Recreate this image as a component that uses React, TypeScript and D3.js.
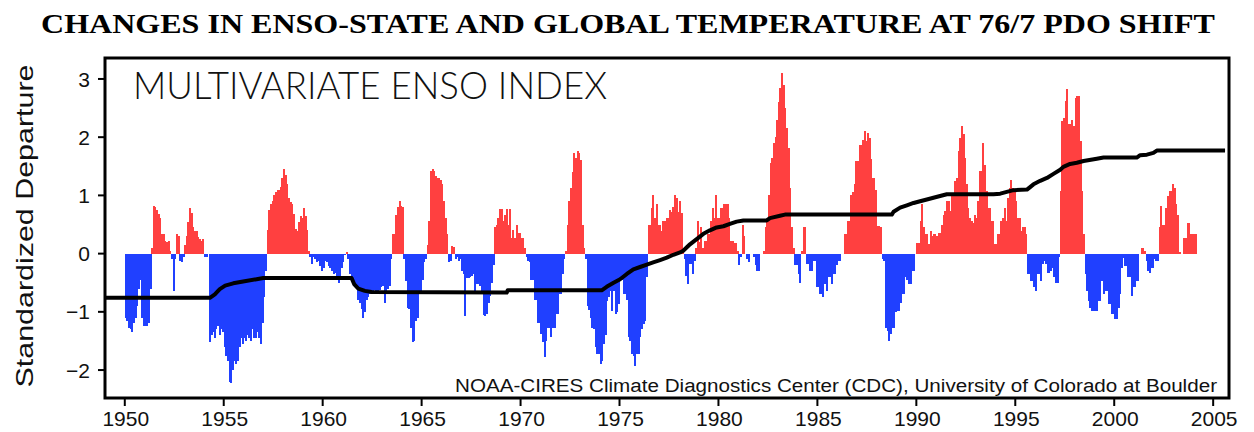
import React from "react";
import * as d3 from "d3";

const title = "CHANGES IN ENSO-STATE AND GLOBAL TEMPERATURE AT 76/7 PDO SHIFT";
const panelLabel = "MULTIVARIATE ENSO INDEX";
const credit = "NOAA-CIRES Climate Diagnostics Center (CDC), University of Colorado at Boulder";
const yAxisLabel = "Standardized Departure";
const xTicks = [1950, 1955, 1960, 1965, 1970, 1975, 1980, 1985, 1990, 1995, 2000, 2005];
const yTicks = [-2, -1, 0, 1, 2, 3];
const startYear = 1950;

// Monthly MEI values, January of the first year of each decade onward
const mei1950s = [
  -1.1, -1.15, -1.27, -1.3, -1.35, -1.2, -1.1, -0.9, -0.6, -0.45, -1.1, -1.25,
  -1.25, -1.25, -1.2, -0.6, 0.1, 0.82, 0.8, 0.75, 0.68, 0.62, 0.33, 0.33,
  0.22, 0.2, 0.22, 0.05, -0.1, -0.64, -0.1, 0.33, 0.3, -0.12, -0.15, -0.05,
  0.15, 0.3, 0.55, 0.79, 0.7, 0.45, 0.38, 0.38, 0.28, 0.25, 0.22, 0.25,
  -0.05, -0.05, 0.0, -1.52, -1.4, -1.35, -1.45, -1.3, -1.25, -1.4, -1.3, -1.35,
  -1.6, -1.75, -1.85, -2.2, -2.22, -2.0, -1.85, -1.9, -1.85, -1.6, -1.45, -1.55,
  -1.45, -1.5, -1.4, -1.45, -1.5, -1.3, -1.45, -1.45, -1.35, -1.45, -1.55, -1.2,
  -0.75, -0.3, 0.4, 0.75, 0.85, 0.9, 1.0, 1.05, 1.1, 1.1, 1.15, 1.3,
  1.45, 1.35, 1.2, 0.95, 0.88, 0.85, 0.68, 0.42, 0.38, 0.55, 0.65, 0.62,
  0.78, 0.65, 0.4, 0.05, -0.05, -0.18, -0.05, -0.1, -0.15, -0.12, -0.22, -0.3,
];
const mei1960s = [
  -0.25, -0.12, -0.15, -0.22, -0.25, -0.3, -0.35, -0.33, -0.4, -0.5, -0.45, -0.25,
  -0.15, -0.02, 0.02, -0.1, -0.35, -0.38, -0.45, -0.5, -0.6, -0.8, -0.85, -0.95,
  -1.1, -1.0, -0.8, -0.75, -0.7, -0.68, -0.65, -0.62, -0.68, -0.7, -0.62, -0.58,
  -0.55, -0.85, -0.7, -0.6, -0.55, -0.1, 0.33, 0.33, 0.67, 0.8, 0.9, 0.82,
  0.8, -0.1, -0.47, -0.93, -0.95, -1.27, -1.52, -1.5, -1.15, -1.1, -0.7, -0.65,
  -0.45, -0.15, -0.1, 0.15, 0.56, 1.42, 1.45, 1.42, 1.33, 1.3, 1.3, 1.27,
  1.19, 0.9, 0.62, 0.33, -0.15, -0.12, 0.13, 0.12, -0.1, -0.05, -0.12, -0.1,
  -0.3, -0.35, -1.07, -0.42, -0.42, -0.4, -0.38, -0.35, -0.7, -0.52, -0.52, -0.55,
  -0.65, -1.05, -1.07, -1.04, -0.85, -0.72, -0.5, -0.2, 0.45, 0.5, 0.62, 0.76,
  0.76, 0.56, 0.67, 0.76, 0.5, 0.76, 0.27, 0.41, 0.27, 0.5, 0.36, 0.36,
];
const mei1970s = [
  0.27, 0.27, 0.1, -0.05, -0.12, -0.15, -0.45, -0.45, -0.8, -0.8, -1.2, -1.2,
  -1.38, -1.52, -1.78, -1.5, -1.27, -1.27, -1.44, -1.27, -1.27, -1.04, -1.04, -0.7,
  -0.7, -0.35, -0.1, 0.05, 0.5, 0.9, 1.13, 1.4, 1.73, 1.65, 1.76, 1.72,
  1.6, 0.5, 0.1, -0.1, -0.9, -0.97, -1.1, -1.27, -1.3, -1.6, -1.72, -1.72,
  -1.9, -1.85, -1.55, -1.4, -0.81, -0.75, -0.64, -0.98, -0.64, -1.04, -1.0, -0.87,
  -0.41, -0.45, -0.7, -0.7, -0.8, -1.44, -1.5, -1.73, -1.75, -1.93, -1.73, -1.73,
  -1.44, -1.3, -1.21, -1.15, -0.4, 0.5, 0.5, 0.79, 1.0, 0.62, 0.85, 0.5,
  0.5, 0.39, 0.56, 0.56, 0.62, 0.62, 0.75, 0.72, 0.8, 1.0, 0.95, 0.72,
  0.9, 0.7, 0.1, -0.1, -0.38, -0.53, -0.18, -0.18, -0.35, -0.13, 0.1, 0.56,
  0.2, 0.45, 0.1, 0.22, 0.22, 0.33, 0.33, 0.56, 0.79, 0.62, 1.0, 0.62,
];
const mei1980s = [
  0.62, 0.79, 0.79, 0.85, 0.85, 0.85, 0.62, 0.22, 0.22, 0.19, 0.19, 0.05,
  -0.2, -0.05, 0.5, 0.3, 0.0, -0.1, -0.15, 0.0, 0.0, -0.05, -0.2, -0.3,
  -0.3, 0.0, 0.0, 0.05, 0.45, 0.6, 1.0, 1.55, 1.65, 1.9, 2.0, 2.3,
  2.6, 2.85, 3.1, 2.9, 2.5, 2.16, 1.82, 1.13, 0.45, 0.1, -0.2, -0.2,
  -0.35, -0.5, 0.05, 0.45, 0.45, -0.18, -0.18, -0.3, -0.3, -0.12, -0.12, -0.58,
  -0.58, -0.7, -0.7, -0.75, -0.53, -0.64, -0.41, -0.41, -0.53, -0.35, -0.35, -0.2,
  -0.13, -0.13, 0.0, 0.0, 0.33, 0.33, 0.56, 0.56, 1.0, 1.05, 1.2, 1.59,
  1.59, 1.87, 1.87, 1.95, 2.1, 1.93, 2.07, 1.99, 1.62, 1.3, 1.3, 1.1,
  0.47, 0.47, 0.45, -0.1, -0.13, -1.27, -1.33, -1.5, -1.38, -1.27, -1.27, -1.0,
  -0.98, -0.98, -0.85, -0.7, -0.7, -0.41, -0.45, -0.53, -0.53, -0.3, -0.3, 0.0,
];
const mei1990s = [
  0.19, 0.19, 0.56, 0.85, 0.45, 0.33, 0.33, 0.16, 0.39, 0.3, 0.33, 0.33,
  0.3, 0.35, 0.36, 0.5, 0.67, 0.73, 0.9, 0.9, 0.73, 1.02, 1.02, 1.25,
  1.3, 1.76, 1.99, 2.19, 2.05, 1.65, 1.19, 0.79, 0.62, 0.56, 0.53, 0.67,
  0.62, 0.9, 1.42, 1.42, 1.9, 1.53, 1.07, 0.79, 0.79, 0.56, 0.56, 0.16,
  0.16, 0.33, 0.33, 0.56, 0.62, 0.79, 0.56, 0.96, 1.13, 1.27, 1.13, 1.05,
  0.9, 0.62, 0.62, 0.39, 0.45, 0.45, 0.33, -0.35, -0.35, -0.47, -0.47, -0.58,
  -0.64, -0.35, -0.35, -0.47, -0.18, -0.13, -0.18, -0.33, -0.33, -0.3, -0.25, -0.4,
  -0.5, -0.5, -0.05, 1.07, 2.27, 2.33, 2.62, 2.82, 2.22, 2.22, 2.3, 2.19,
  2.67, 2.7, 2.7, 1.93, 1.07, 0.33, -0.35, -0.64, -0.81, -0.93, -0.98, -0.98,
  -0.98, -0.98, -0.81, -0.81, -0.47, -0.7, -0.64, -0.64, -0.87, -0.87, -1.04, -1.04,
];
const mei2000s = [
  -1.13, -1.13, -0.93, -0.7, -0.24, -0.07, -0.21, -0.21, -0.41, -0.41, -0.73, -0.58,
  -0.58, -0.47, -0.47, 0.0, 0.1, 0.1, 0.05, -0.13, -0.3, -0.33, -0.24, -0.24,
  -0.1, -0.13, -0.13, 0.45, 0.82, 0.5, 0.5, 0.79, 0.99, 1.07, 1.07, 1.19,
  1.13, 0.85, 0.67, 0.02, 0.0, 0.0, 0.27, 0.27, 0.53, 0.53, 0.33, 0.33,
  0.33, 0.33,
];

// Black step-like curve (year, value)
const trendYears = [
  1949.0, 1954.3, 1954.55, 1954.8, 1955.07, 1955.48, 1955.98, 1956.66, 1957.0, 1961.46,
  1961.6, 1961.8, 1962.13, 1962.47, 1969.3, 1969.35, 1974.1, 1974.35, 1974.7, 1975.03,
  1975.37, 1975.7, 1976.04, 1976.38, 1976.7, 1977.05, 1977.39, 1977.72, 1978.06, 1978.22,
  1978.56, 1978.9, 1979.24, 1979.57, 1979.91, 1980.25, 1980.58, 1980.92, 1981.26, 1982.44,
  1982.6, 1983.11, 1983.36, 1988.76, 1988.85, 1989.18, 1989.52, 1989.86, 1990.19, 1990.53,
  1991.2, 1991.54, 1993.9, 1994.24, 1994.57, 1994.91, 1995.59, 1995.92, 1996.26, 1996.6,
  1996.93, 1997.27, 1997.43, 1997.77, 1998.11, 1998.45, 1999.12, 1999.46, 2001.14, 2001.31,
  2001.65, 2001.98, 2002.15, 2005.6,
];
const trendValues = [
  -0.76, -0.76, -0.7, -0.61, -0.55, -0.51, -0.48, -0.44, -0.42, -0.42,
  -0.53, -0.6, -0.64, -0.66, -0.67, -0.63, -0.63, -0.57, -0.5, -0.44,
  -0.35, -0.27, -0.23, -0.19, -0.15, -0.11, -0.07, -0.02, 0.02, 0.05,
  0.16, 0.25, 0.34, 0.4, 0.45, 0.47, 0.51, 0.55, 0.57, 0.57,
  0.61, 0.65, 0.67, 0.67, 0.72, 0.79, 0.83, 0.87, 0.9, 0.93,
  0.99, 1.02, 1.02, 1.03, 1.06, 1.09, 1.1, 1.19, 1.25, 1.3,
  1.37, 1.44, 1.49, 1.54, 1.56, 1.59, 1.63, 1.65, 1.65, 1.69,
  1.7, 1.73, 1.77, 1.77,
];

const W = 1254;
const H = 432;
const PL = 105, PR = 1229, PT = 58, PB = 398;
const RED = "#ff4040";
const BLUE = "#2040ff";

export default function App() {
  const mei = [...mei1950s, ...mei1960s, ...mei1970s, ...mei1980s, ...mei1990s, ...mei2000s];
  const x = d3.scaleLinear().domain([1949.0, 2005.8]).range([PL, PR]);
  const y = d3.scaleLinear().domain([-2.48, 3.36]).range([PB, PT]);
  const y0 = y(0);
  const line = d3
    .line<number>()
    .x((_, i) => x(trendYears[i]))
    .y((d) => y(d));
  const tickFont = "'Liberation Sans', 'DejaVu Sans', sans-serif";

  return (
    <svg
      width={W}
      height={H}
      viewBox={`0 0 ${W} ${H}`}
      style={{ position: "absolute", left: 0, top: 0, background: "#fff" }}
    >
      <rect x={0} y={0} width={W} height={H} fill="#fff" />
      <text
        x={41}
        y={33}
        fontFamily="'Liberation Serif', 'Times New Roman', serif"
        fontWeight="bold"
        fontSize={27}
        textLength={1174}
        lengthAdjust="spacingAndGlyphs"
      >
        {title}
      </text>

      <g shapeRendering="crispEdges">
        {mei.map((v, i) => {
          if (v === 0) return null;
          const t0 = startYear + i / 12;
          const t1 = startYear + (i + 1) / 12;
          const x0 = x(t0);
          const x1 = x(t1);
          const yv = y(v);
          return (
            <rect
              key={i}
              x={x0}
              width={x1 - x0 + 0.35}
              y={Math.min(yv, y0)}
              height={Math.abs(yv - y0)}
              fill={v > 0 ? RED : BLUE}
            />
          );
        })}
      </g>

      <path
        d={line(trendValues) || ""}
        fill="none"
        stroke="#000"
        strokeWidth={4}
        strokeLinejoin="round"
      />

      <text
        x={133}
        y={99}
        fontFamily="Lato, 'Open Sans', sans-serif"
        fontWeight={300}
        fontSize={37}
        textLength={474}
        lengthAdjust="spacingAndGlyphs"
        fill="#111"
      >
        {panelLabel}
      </text>

      <text
        x={455}
        y={392}
        fontFamily={tickFont}
        fontSize={18}
        textLength={762}
        lengthAdjust="spacingAndGlyphs"
        fill="#111"
      >
        {credit}
      </text>

      <rect x={PL} y={PT} width={PR - PL} height={PB - PT} fill="none" stroke="#000" strokeWidth={3} />

      {yTicks.map((t) => (
        <g key={`y${t}`}>
          <line x1={PL - 7} x2={PL} y1={y(t)} y2={y(t)} stroke="#000" strokeWidth={2} />
          <text
            x={PL - 15}
            y={y(t)}
            dy="0.36em"
            textAnchor="end"
            fontFamily={tickFont}
            fontSize={21}
            fill="#111"
          >
            {t < 0 ? `\u2212${Math.abs(t)}` : `${t}`}
          </text>
        </g>
      ))}

      {xTicks.map((t) => (
        <g key={`x${t}`}>
          <line x1={x(t)} x2={x(t)} y1={PB} y2={PB + 8} stroke="#000" strokeWidth={2} />
          <text
            x={x(t) + 1}
            y={426}
            textAnchor="middle"
            fontFamily={tickFont}
            fontSize={21}
            fill="#111"
          >
            {t}
          </text>
        </g>
      ))}

      <text
        transform={`translate(33, 226) rotate(-90)`}
        textAnchor="middle"
        fontFamily={tickFont}
        fontSize={24}
        textLength={323}
        lengthAdjust="spacingAndGlyphs"
        fill="#111"
      >
        {yAxisLabel}
      </text>
    </svg>
  );
}
